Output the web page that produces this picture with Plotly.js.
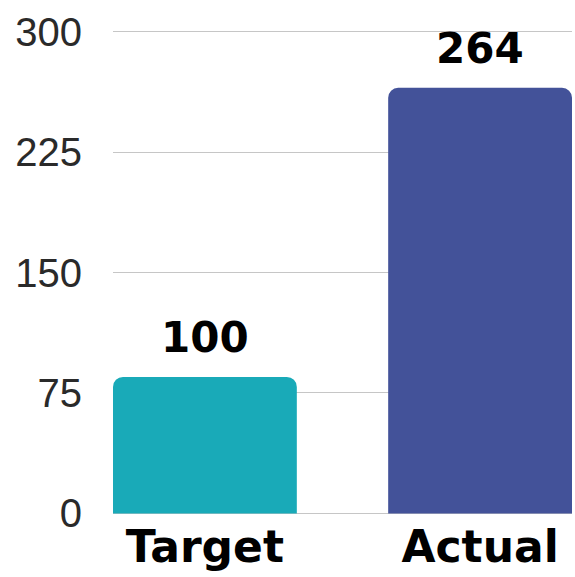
<!DOCTYPE html>
<html>
<head>
<meta charset="utf-8">
<script src="https://cdn.plot.ly/plotly-3.0.1.min.js"></script>
<style>html,body{margin:0;padding:0;background:#fff;}#chart{width:575px;height:577px;}</style>
</head>
<body>
<div id="chart"></div>
<script>
var categories = ["Target", "Actual"];
var barValues = [85, 265];
var valueLabels = ["100", "264"];
var barColors = ["#19aab8", "#435299"];
var yTicks = [0, 75, 150, 225, 300];

var trace = {
  type: "bar",
  x: categories,
  y: barValues,
  width: 0.668,
  marker: {color: barColors},
  hoverinfo: "none"
};

var annotations = categories.map(function (c, i) {
  return {
    x: c, y: barValues[i], text: valueLabels[i],
    xref: "x", yref: "y", showarrow: false,
    yanchor: "bottom", yshift: 13,
    font: {family: "'DejaVu Sans', sans-serif", size: 42, weight: 700, color: "#000"}
  };
});

var layout = {
  width: 575, height: 577,
  margin: {l: 113, r: 3, t: 28, b: 60},
  paper_bgcolor: "#fff", plot_bgcolor: "#fff",
  showlegend: false,
  barcornerradius: 10,
  xaxis: {
    range: [-0.334, 1.334],
    showgrid: false, zeroline: false, showline: false,
    ticks: "",
    tickfont: {family: "'DejaVu Sans', sans-serif", size: 44, weight: 700, color: "#000"}
  },
  yaxis: {
    range: [-2.2, 302.2],
    tickvals: yTicks,
    ticktext: yTicks.map(String),
    showgrid: true, gridcolor: "#c6c6c6", gridwidth: 1,
    zeroline: false, showline: false, ticks: "",
    ticklabelstandoff: 30,
    tickfont: {family: "'Liberation Sans', Arial, sans-serif", size: 40, color: "#2a2a2a"}
  },
  annotations: annotations
};

Plotly.newPlot("chart", [trace], layout, {staticPlot: true, displayModeBar: false});
</script>
</body>
</html>
